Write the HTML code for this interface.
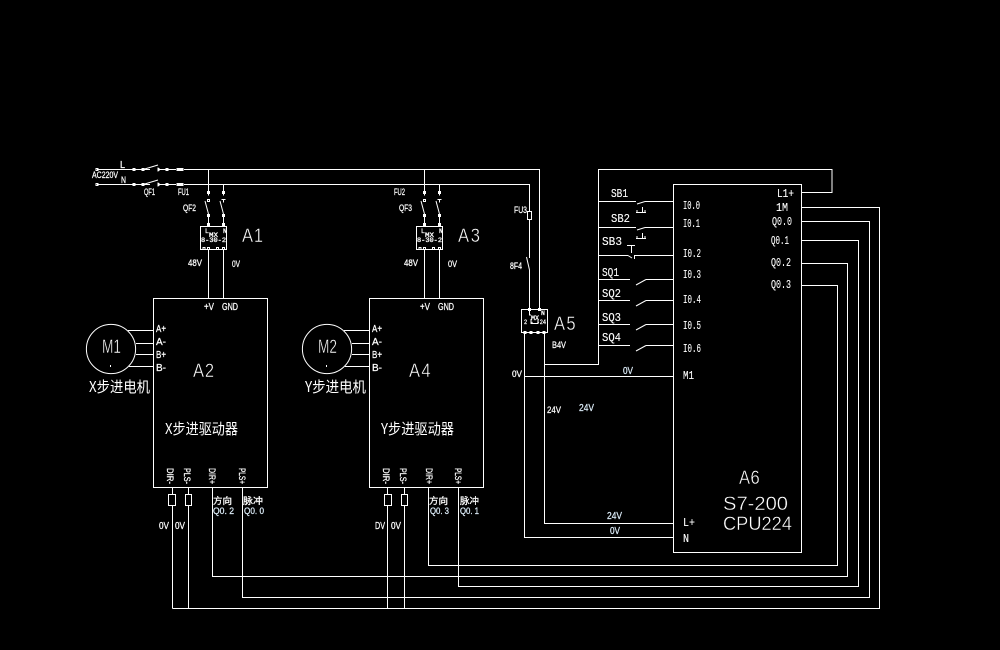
<!DOCTYPE html>
<html><head><meta charset="utf-8">
<style>
html,body{margin:0;padding:0;background:#000;width:1000px;height:650px;overflow:hidden}
svg{display:block}
.w{fill:none;stroke:#fff;stroke-width:1;shape-rendering:crispEdges}
.d{fill:none;stroke:#fff;stroke-width:1}
text{fill:#fff;stroke:#fff;stroke-width:.25;font-family:"Liberation Sans","Noto Sans CJK SC",sans-serif;font-size:10px}
.m{font-family:"Liberation Mono","Noto Sans CJK SC",monospace;font-size:12px;stroke-width:.12}
.b{font-size:19.5px;stroke:#000;stroke-width:.4}
.c{font-size:15px;font-family:"Noto Sans CJK SC","Liberation Sans",sans-serif;stroke-width:0}
.s{font-size:9px}
.t{font-size:6.5px;font-family:"Liberation Mono",monospace;stroke-width:.3}
.cy{fill:#dcecf8;stroke:#dcecf8}
</style></head><body>
<svg width="1000" height="650" viewBox="0 0 1000 650" xmlns="http://www.w3.org/2000/svg">
<rect width="1000" height="650" fill="#000"/>
<defs>
<g id="br">
  <path class="w" d="M8.5 19.5V27.5M8.5 46.5V58M23.5 19.5V27.5M23.5 46.5V58"/>
  <rect class="w" x="7.5" y="23.5" width="2" height="2" /><rect class="w" x="22.5" y="23.5" width="2" height="2"/>
  <rect class="w" x="7.5" y="31.5" width="2" height="2" /><path class="w" d="M21.5 31.5H25.5M23.5 31.5V34.5"/>
  <path class="d" d="M5 33L8.5 46M20 33L23.5 46"/>
  <rect class="w" x="7.5" y="46.5" width="2" height="2"/><rect class="w" x="22.5" y="46.5" width="2" height="2"/>
  <rect class="w" x="7.5" y="55.5" width="2" height="2"/><rect class="w" x="22.5" y="55.5" width="2" height="2"/>
  <rect class="w" x="0.5" y="58.5" width="26" height="23"/>
  <path class="w" d="M3 79.5h2v2h-2zM7.5 79.5h2v2h-2zM16.5 79.5h2v2h-2zM22.5 79.5h2v2h-2z"/>
  <path class="w" d="M8.5 82V130M23.5 82V130"/>
</g>
<g id="sw">
  <path class="w" d="M97 0.5H134M143 0.5H150M159 0.5H176"/>
  <rect class="w" x="96" y="-0.5" width="2" height="2"/>
  <rect class="w" x="133" y="-0.5" width="2" height="2"/>
  <rect class="w" x="142" y="-0.5" width="2" height="2"/>
  <path class="w" d="M134 0.5H143"/>
  <path class="d" d="M143 0.5L158 -4"/>
  <path class="w" d="M158 -1.5V2.5M159 -1V2"/>
  <rect class="w" x="166" y="-0.5" width="2" height="2"/>
  <rect x="176.5" y="-1" width="7" height="3" fill="#fff"/>
</g>
<g id="nc">
  <path class="d" d="M637 3L645 0.5"/>
  <path class="w" d="M598 0.5H636M645 0.5H673M642.5 6V11.5M636 11.5H646M637 9V11.5M645 9V11.5"/>
</g>
<g id="no">
  <path class="w" d="M598 0.5H630M646 0.5H673"/>
  <path class="d" d="M636 6L646 0.5"/>
</g>
</defs>

<!-- mains -->
<use href="#sw" x="0" y="169"/>
<use href="#sw" x="0" y="184"/>
<path class="w" d="M184 169.5H539.5V309M184 184.5H529.5V211M529.5 219V258M529.5 270V309"/>
<rect class="w" x="527.5" y="211.5" width="4" height="8"/>
<path class="d" d="M526.5 257L529.5 270"/>
<path class="w" d="M208.5 169.5V192M223.5 184.5V192M424.5 169.5V192M439.5 184.5V192"/>

<use href="#br" x="200" y="168"/>
<use href="#br" x="416" y="168"/>
<text x="205" y="233" class="t">L</text><text x="223" y="233" class="t">N</text>
<text x="209" y="237" textLength="9" lengthAdjust="spacingAndGlyphs" class="t">MX</text>
<text x="201" y="242" textLength="25" lengthAdjust="spacingAndGlyphs" class="t">8-30-2</text>
<text x="421" y="233" class="t">L</text><text x="439" y="233" class="t">N</text>
<text x="425" y="237" textLength="9" lengthAdjust="spacingAndGlyphs" class="t">MX</text>
<text x="417" y="242" textLength="25" lengthAdjust="spacingAndGlyphs" class="t">8-30-2</text>

<!-- A5 -->
<rect class="w" x="521.5" y="309.5" width="26" height="23"/>
<path class="w" d="M529.5 309V315H531M531 319V323.5H538V319"/>
<rect class="w" x="528.5" y="308.5" width="2" height="2"/><rect class="w" x="538.5" y="308.5" width="2" height="2"/>
<path class="w" d="M524 331.5h2v2h-2zM530 331.5h2v2h-2zM537 331.5h2v2h-2zM543 331.5h2v2h-2z"/>
<text x="541" y="315" class="t">N</text>
<text x="531" y="320" textLength="8" lengthAdjust="spacingAndGlyphs" class="t">MX</text>
<text x="524" y="324" textLength="22" lengthAdjust="spacingAndGlyphs" class="t">2 -  -24</text>
<path class="w" d="M524.5 333V537.5H673M544.5 333V523.5H673M524.5 376.5H673M544.5 364.5H598.5V169.5H832V192.5H801"/>

<!-- Drives -->
<rect class="w" x="153.5" y="298.5" width="114" height="189"/>
<rect class="w" x="369.5" y="298.5" width="114" height="189"/>
<circle class="d" cx="111" cy="349" r="24.6"/>
<circle class="d" cx="327" cy="349" r="24.6"/>
<rect x="110" y="365" width="1" height="2" fill="#fff"/>
<rect x="326" y="365" width="1" height="2" fill="#fff"/>
<path class="w" d="M128 330.5H153M136 343.5H153M136 354.5H153M129 366.5H153M344 330.5H369M352 343.5H369M352 354.5H369M345 366.5H369"/>

<!-- resistors -->
<rect class="w" x="168.5" y="494.5" width="7" height="11"/>
<rect class="w" x="185.5" y="494.5" width="6" height="11"/>
<rect class="w" x="384.5" y="494.5" width="7" height="11"/>
<rect class="w" x="401.5" y="494.5" width="6" height="11"/>
<path class="w" d="M172.5 487V494M188.5 487V494M387.5 487V494M404.5 487V494"/>
<path class="w" d="M172.5 505V608.5M188.5 505V608.5M387.5 505V608.5M404.5 505V608.5"/>

<!-- bus -->
<path class="w" d="M801 207.5H879.5V608.5H172.5"/>
<path class="w" d="M801 221.5H869.5V597.5H242.5V487"/>
<path class="w" d="M801 240.5H858.5V586.5H458.5V487"/>
<path class="w" d="M801 263.5H847.5V576.5H212.5V487"/>
<path class="w" d="M801 285.5H837.5V565.5H428.5V487"/>

<!-- PLC -->
<rect class="w" x="673.5" y="184.5" width="128" height="368"/>
<use href="#nc" y="201"/>
<use href="#nc" y="227"/>
<path class="w" d="M598 255.5H628M634 255.5H673M634.5 255.5V259M627 245.5H635M631.5 245.5V253"/>
<path class="d" d="M628 255.5L632 258"/>
<use href="#no" y="279"/>
<use href="#no" y="300"/>
<use href="#no" y="324"/>
<use href="#no" y="345"/>

<!-- labels -->
<text x="120" y="168" textLength="5" lengthAdjust="spacingAndGlyphs">L</text>
<text x="92" y="178" textLength="26" lengthAdjust="spacingAndGlyphs" class="s">AC220V</text>
<text x="121" y="183" textLength="5" lengthAdjust="spacingAndGlyphs" class="s">N</text>
<text x="144" y="195" textLength="11" lengthAdjust="spacingAndGlyphs" class="s">QF1</text>
<text x="178" y="195" textLength="11" lengthAdjust="spacingAndGlyphs" class="s">FU1</text>
<text x="183" y="211" textLength="13" lengthAdjust="spacingAndGlyphs" class="s">QF2</text>
<text x="188" y="266" textLength="14" lengthAdjust="spacingAndGlyphs" class="s">48V</text>
<text x="232" y="267" textLength="8" lengthAdjust="spacingAndGlyphs" class="s">0V</text>
<text transform="translate(242 242) scale(.85 1)" x="0 14" class="b">A1</text>

<text x="394" y="195" textLength="11" lengthAdjust="spacingAndGlyphs" class="s">FU2</text>
<text x="399" y="211" textLength="13" lengthAdjust="spacingAndGlyphs" class="s">QF3</text>
<text x="404" y="266" textLength="14" lengthAdjust="spacingAndGlyphs" class="s">48V</text>
<text x="448" y="267" textLength="9" lengthAdjust="spacingAndGlyphs" class="s">0V</text>
<text transform="translate(458 242) scale(.85 1)" x="0 15" class="b">A3</text>

<text x="514" y="213" textLength="13" lengthAdjust="spacingAndGlyphs" class="s">FU3</text>
<text x="510" y="269" textLength="12" lengthAdjust="spacingAndGlyphs" class="s">8F4</text>
<text transform="translate(554 330) scale(.85 1)" x="0 14.5" class="b">A5</text>
<text x="552" y="348" textLength="14" lengthAdjust="spacingAndGlyphs" class="s">B4V</text>
<text x="512" y="377" textLength="10" lengthAdjust="spacingAndGlyphs" class="s">0V</text>

<text x="204" y="310" textLength="10" lengthAdjust="spacingAndGlyphs">+V</text>
<text x="222" y="310" textLength="16" lengthAdjust="spacingAndGlyphs">GND</text>
<text x="420" y="310" textLength="10" lengthAdjust="spacingAndGlyphs">+V</text>
<text x="438" y="310" textLength="16" lengthAdjust="spacingAndGlyphs">GND</text>

<text x="156" y="332" textLength="10" lengthAdjust="spacingAndGlyphs">A+</text>
<text x="156" y="345" textLength="10" lengthAdjust="spacingAndGlyphs">A-</text>
<text x="156" y="358" textLength="10" lengthAdjust="spacingAndGlyphs">B+</text>
<text x="156" y="371" textLength="10" lengthAdjust="spacingAndGlyphs">B-</text>
<text x="372" y="332" textLength="10" lengthAdjust="spacingAndGlyphs">A+</text>
<text x="372" y="345" textLength="10" lengthAdjust="spacingAndGlyphs">A-</text>
<text x="372" y="358" textLength="10" lengthAdjust="spacingAndGlyphs">B+</text>
<text x="372" y="371" textLength="10" lengthAdjust="spacingAndGlyphs">B-</text>

<text x="102" y="353" textLength="19" lengthAdjust="spacingAndGlyphs" class="b">M1</text>
<text x="318" y="353" textLength="19" lengthAdjust="spacingAndGlyphs" class="b">M2</text>
<text x="89" y="392" textLength="61" lengthAdjust="spacingAndGlyphs" class="c">X步进电机</text>
<text x="305" y="392" textLength="61" lengthAdjust="spacingAndGlyphs" class="c">Y步进电机</text>
<text transform="translate(193 377) scale(.85 1)" x="0 14" class="b">A2</text>
<text transform="translate(409 377) scale(.85 1)" x="0 14.5" class="b">A4</text>
<text x="165" y="434" textLength="73" lengthAdjust="spacingAndGlyphs" class="c">X步进驱动器</text>
<text x="381" y="434" textLength="73" lengthAdjust="spacingAndGlyphs" class="c">Y步进驱动器</text>

<text transform="translate(167 468) rotate(90)" textLength="16" lengthAdjust="spacingAndGlyphs" class="s">DIR-</text>
<text transform="translate(184 468) rotate(90)" textLength="16" lengthAdjust="spacingAndGlyphs" class="s">PLS-</text>
<text transform="translate(209 468) rotate(90)" textLength="16" lengthAdjust="spacingAndGlyphs" class="s">DIR+</text>
<text transform="translate(239 468) rotate(90)" textLength="16" lengthAdjust="spacingAndGlyphs" class="s">PLS+</text>
<text transform="translate(383 468) rotate(90)" textLength="16" lengthAdjust="spacingAndGlyphs" class="s">DIR-</text>
<text transform="translate(400 468) rotate(90)" textLength="16" lengthAdjust="spacingAndGlyphs" class="s">PLS-</text>
<text transform="translate(426 468) rotate(90)" textLength="16" lengthAdjust="spacingAndGlyphs" class="s">DIR+</text>
<text transform="translate(455 468) rotate(90)" textLength="16" lengthAdjust="spacingAndGlyphs" class="s">PLS+</text>

<text x="213" y="504" textLength="19" lengthAdjust="spacingAndGlyphs" class="s">方向</text>
<text x="213" y="514" textLength="21" lengthAdjust="spacingAndGlyphs" class="s cy">Q0. 2</text>
<text x="243" y="504" textLength="20" lengthAdjust="spacingAndGlyphs" class="s">脉冲</text>
<text x="244" y="514" textLength="20" lengthAdjust="spacingAndGlyphs" class="s cy">Q0. 0</text>
<text x="429" y="504" textLength="19" lengthAdjust="spacingAndGlyphs" class="s">方向</text>
<text x="430" y="514" textLength="19" lengthAdjust="spacingAndGlyphs" class="s cy">Q0. 3</text>
<text x="460" y="504" textLength="19" lengthAdjust="spacingAndGlyphs" class="s">脉冲</text>
<text x="460" y="514" textLength="19" lengthAdjust="spacingAndGlyphs" class="s cy">Q0. 1</text>
<text x="159" y="529" textLength="10" lengthAdjust="spacingAndGlyphs">0V</text>
<text x="175" y="529" textLength="10" lengthAdjust="spacingAndGlyphs">0V</text>
<text x="375" y="529" textLength="10" lengthAdjust="spacingAndGlyphs">DV</text>
<text x="391" y="529" textLength="10" lengthAdjust="spacingAndGlyphs">0V</text>

<text x="611" y="197" textLength="17" lengthAdjust="spacingAndGlyphs" class="m">SB1</text>
<text x="611" y="222" textLength="19" lengthAdjust="spacingAndGlyphs" class="m">SB2</text>
<text x="602" y="245" textLength="20" lengthAdjust="spacingAndGlyphs" class="m">SB3</text>
<text x="602" y="276" textLength="17" lengthAdjust="spacingAndGlyphs" class="m">SQ1</text>
<text x="602" y="297" textLength="19" lengthAdjust="spacingAndGlyphs" class="m">SQ2</text>
<text x="602" y="321" textLength="19" lengthAdjust="spacingAndGlyphs" class="m">SQ3</text>
<text x="602" y="341" textLength="19" lengthAdjust="spacingAndGlyphs" class="m">SQ4</text>

<text x="683" y="209" textLength="17" lengthAdjust="spacingAndGlyphs" class="m">I0.0</text>
<text x="683" y="227" textLength="17" lengthAdjust="spacingAndGlyphs" class="m">I0.1</text>
<text x="683" y="257" textLength="18" lengthAdjust="spacingAndGlyphs" class="m">I0.2</text>
<text x="683" y="278" textLength="18" lengthAdjust="spacingAndGlyphs" class="m">I0.3</text>
<text x="683" y="303" textLength="18" lengthAdjust="spacingAndGlyphs" class="m">I0.4</text>
<text x="683" y="329" textLength="18" lengthAdjust="spacingAndGlyphs" class="m">I0.5</text>
<text x="683" y="352" textLength="18" lengthAdjust="spacingAndGlyphs" class="m">I0.6</text>
<text x="683" y="379" textLength="11" lengthAdjust="spacingAndGlyphs" class="m">M1</text>
<text x="683" y="526" textLength="12" lengthAdjust="spacingAndGlyphs" class="m">L+</text>
<text x="683" y="542" textLength="6" lengthAdjust="spacingAndGlyphs" class="m">N</text>

<text x="777" y="197" textLength="17" lengthAdjust="spacingAndGlyphs" class="m">L1+</text>
<text x="776" y="211" textLength="12" lengthAdjust="spacingAndGlyphs" class="m">1M</text>
<text x="772" y="225" textLength="20" lengthAdjust="spacingAndGlyphs" class="m">Q0.0</text>
<text x="771" y="244" textLength="18" lengthAdjust="spacingAndGlyphs" class="m">Q0.1</text>
<text x="771" y="266" textLength="20" lengthAdjust="spacingAndGlyphs" class="m">Q0.2</text>
<text x="771" y="288" textLength="20" lengthAdjust="spacingAndGlyphs" class="m">Q0.3</text>

<text x="623" y="374" textLength="10" lengthAdjust="spacingAndGlyphs" class="cy">0V</text>
<text x="579" y="411" textLength="15" lengthAdjust="spacingAndGlyphs" class="cy">24V</text>
<text x="547" y="413" textLength="14" lengthAdjust="spacingAndGlyphs" class="s">24V</text>
<text x="607" y="519" textLength="15" lengthAdjust="spacingAndGlyphs" class="cy">24V</text>
<text x="610" y="534" textLength="10" lengthAdjust="spacingAndGlyphs" class="cy">0V</text>

<text transform="translate(739 484) scale(.85 1)" x="0 13.5" class="b">A6</text>
<text x="723" y="510" textLength="65" lengthAdjust="spacingAndGlyphs" class="b">S7-200</text>
<text x="723" y="530" textLength="69" lengthAdjust="spacingAndGlyphs" class="b">CPU224</text>
</svg>
</body></html>
